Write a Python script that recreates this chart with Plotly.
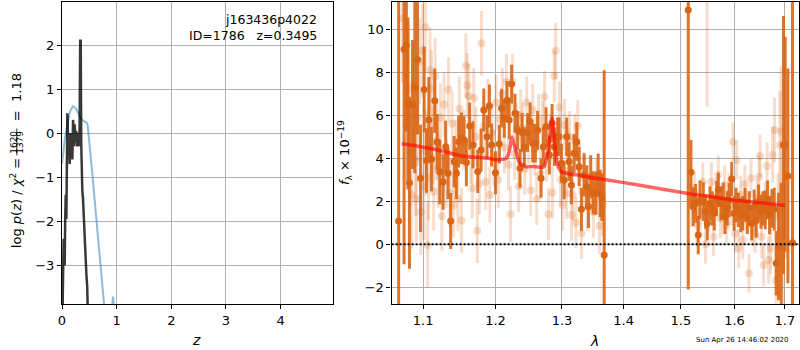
import plotly.graph_objects as go

# ---------------- left panel: p(z) ----------------
z_pz = [0.0, 0.007, 0.02, 0.031, 0.04, 0.049, 0.058, 0.068, 0.08, 0.09, 0.098, 0.104, 0.11, 0.12, 0.13,
        0.141, 0.153, 0.162, 0.172, 0.181, 0.19, 0.202, 0.211, 0.22, 0.232, 0.245, 0.26, 0.275, 0.285,
        0.294, 0.303, 0.312, 0.322, 0.333, 0.343, 0.352, 0.361, 0.372, 0.385, 0.40, 0.416, 0.432, 0.446,
        0.462, 0.477, 0.49]
logpz = [-5.0, -3.6, -3.2, -2.4, -2.9, -3.0, -2.0, -1.4, -1.95, -0.9, 0.45, 0.3, -0.15, -0.5, -0.3,
         -0.7, 0.0, -0.5, -0.4, -0.1, -0.6, 0.3, 0.1, -0.3, 0.2, -0.2, 0.05, -0.3, 0.0,
         -0.23, -0.3, -0.2, 0.1, 2.1, 2.1, -0.23, -0.9, -1.3, -1.5, -2.0, -2.4, -2.8, -3.2,
         -3.5, -3.9, -5.0]

z_chi = [0.0, 0.05, 0.1, 0.15, 0.2, 0.25, 0.3, 0.35, 0.4, 0.45, 0.47, 0.5, 0.55, 0.6, 0.65, 0.7, 0.75,
         0.8, 0.88, 0.915, 0.934, 0.955, 0.99, 1.05]
chi_curve = [-0.7, -0.15, 0.2, 0.5, 0.61, 0.57, 0.45, 0.32, 0.27, 0.24, 0.18, -0.15, -0.85, -1.55, -2.25,
             -3.0, -3.75, -4.3, -4.4, -4.0, -3.71, -4.0, -4.6, -6.0]

# ---------------- right panel: spectrum ----------------
# darker points (one set of spectra)
wl_a = [1.068, 1.075, 1.078, 1.080, 1.082, 1.086, 1.089, 1.0925, 1.0965, 1.1013, 1.1044, 1.1075, 1.111,
        1.1154, 1.1187, 1.1222, 1.1267, 1.1302, 1.1335, 1.137, 1.1418, 1.1449, 1.148, 1.1518, 1.1555,
        1.1587, 1.1633, 1.168, 1.1747, 1.1794, 1.1832, 1.1879, 1.1913, 1.1944, 1.2, 1.2056, 1.2089,
        1.2128, 1.2168, 1.22, 1.2235, 1.2285, 1.2325, 1.236, 1.239, 1.2424, 1.2473, 1.251, 1.2549,
        1.259, 1.2624, 1.2677, 1.2712, 1.2753, 1.2804, 1.2846, 1.2881, 1.2933, 1.2955, 1.2991, 1.3033,
        1.3074, 1.3112, 1.3148, 1.3191, 1.3233, 1.3271, 1.3308, 1.3351, 1.3393, 1.3421, 1.3458, 1.3497,
        1.354, 1.3579, 1.3611, 1.3638, 1.3677,
        1.5133, 1.5182, 1.5224, 1.5268, 1.5316, 1.5348, 1.5409, 1.5454, 1.5484, 1.5534, 1.5577, 1.5615,
        1.566, 1.569, 1.5741, 1.5785, 1.5817, 1.5861, 1.5899, 1.5945, 1.599, 1.6028, 1.6073, 1.612,
        1.6158, 1.6203, 1.6248, 1.6287, 1.6334, 1.6383, 1.6423, 1.6468, 1.6516, 1.6556, 1.6602, 1.6648,
        1.6688, 1.6737, 1.6783, 1.6823, 1.687, 1.6924, 1.6971, 1.7006, 1.7061, 1.7155]
flux_a = [1.08, 9.07, 9.25, 6.55, 2.86, 6.5, 7.3, 8.6, 3.07, 7.2, 3.9, 5.78, 3.96,
          6.68, 4.76, 3.36, 2.91, 4.54, 3.3, 1.08, 3.84, 3.3, 4.77, 4.93, 4.85,
          3.8, 5.5, 4.62, 3.38, 4.39, 6.25, 5.0, 6.43, 4.62, 3.33, 4.66, 6.33,
          5.86, 6.7, 5.78, 7.45, 6.1, 5.3, 3.53, 5.2, 4.54, 5.19, 5.7, 4.7,
          4.7, 5.3, 3.07, 4.54, 5.47, 4.15, 5.63, 4.54, 5.0, 5.0, 3.77, 2.99,
          5.0, 3.84, 2.76, 4.23, 4.77, 3.61, 1.63, 3.22, 2.68, 1.75, 3.14, 2.4,
          2.37, 3.22, 2.37, 2.19, -0.5,
          10.9, 3.35, 1.75, 1.9, 0.43, 2.06, 1.98, 1.52, 0.98, 1.9, 1.67, 1.44,
          2.14, 2.53, 1.9, 2.06, 1.28, 1.67, 2.06, 3.04, 1.44, 1.83, 1.6, 1.36,
          1.44, 1.83, 1.28, 1.67, 0.98, 1.75, 1.1, 1.98, 1.52, 1.67, 1.6, 2.06,
          1.36, 1.67, 1.63, -0.88, -0.11, -0.14, 4.62, 4.65, 3.18, 0.07]
err_a = [12, 10, 4, 4, 4, 3, 4, 3.5, 2.5, 2, 1.5, 2, 1.5,
         1.5, 1.3, 1.5, 1.3, 1.2, 1.2, 1.3, 1.2, 1.2, 1.2, 1.2, 1.1,
         1.1, 1.1, 1.1, 1.0, 1.0, 1.0, 1.0, 1.0, 1.0, 1.0, 0.9, 0.9,
         0.9, 0.9, 0.9, 0.9, 0.9, 0.9, 0.9, 0.9, 0.9, 0.9, 0.9, 0.9,
         0.9, 0.9, 0.9, 0.9, 0.9, 0.9, 0.9, 0.9, 0.9, 0.9, 0.9, 0.9,
         0.9, 0.9, 0.9, 0.9, 0.9, 0.9, 1.0, 1.0, 1.0, 1.0, 1.0, 1.0,
         1.0, 1.0, 1.1, 1.1, 8.6,
         13, 1.5, 0.9, 0.9, 0.9, 0.9, 0.9, 0.8, 0.8, 0.8, 0.8, 0.8,
         0.8, 0.8, 0.8, 0.8, 0.8, 0.8, 0.8, 0.8, 0.8, 0.8, 0.8, 0.8,
         0.8, 0.8, 0.8, 0.8, 0.8, 0.8, 0.8, 0.8, 0.8, 0.8, 0.9, 0.9,
         0.9, 0.9, 1.0, 1.5, 2.5, 3.0, 6.0, 5.0, 5.0, 13]

# lighter points (other set of spectra)
wl_b = [1.073, 1.078, 1.081, 1.083, 1.085, 1.088, 1.090, 1.091, 1.093, 1.095, 1.097, 1.099, 1.101, 1.103,
        1.104, 1.106, 1.107, 1.109, 1.111, 1.113, 1.114, 1.116, 1.118, 1.120, 1.123, 1.125, 1.128, 1.131,
        1.134, 1.136, 1.139, 1.141, 1.144, 1.147, 1.149, 1.152, 1.155, 1.158, 1.160, 1.162, 1.165, 1.167,
        1.169, 1.172, 1.174, 1.177, 1.180, 1.183, 1.186, 1.189, 1.192, 1.195, 1.198, 1.201, 1.204, 1.207,
        1.210, 1.213, 1.216, 1.219, 1.222, 1.225, 1.228, 1.231, 1.234, 1.237, 1.240, 1.243, 1.246, 1.249,
        1.252, 1.255, 1.258, 1.261, 1.264, 1.267, 1.270, 1.273, 1.276, 1.279, 1.282, 1.285, 1.288, 1.290,
        1.293, 1.296, 1.298, 1.301, 1.304, 1.307, 1.310, 1.312, 1.315, 1.317, 1.320, 1.322, 1.325, 1.328,
        1.331, 1.335, 1.340, 1.345, 1.350, 1.355, 1.360, 1.365,
        1.520, 1.525, 1.530, 1.535, 1.540, 1.545, 1.548, 1.551, 1.556, 1.560, 1.565, 1.569, 1.573, 1.578,
        1.581, 1.585, 1.589, 1.593, 1.597, 1.601, 1.604, 1.608, 1.612, 1.616, 1.620, 1.624, 1.628, 1.632,
        1.636, 1.640, 1.644, 1.648, 1.650, 1.653, 1.657, 1.660, 1.664, 1.667, 1.671, 1.675, 1.679, 1.682,
        1.686, 1.690, 1.692, 1.697]
flux_b = [10.5, 5.5, 7.2, 4.3, 2.3, 7.45, 3.8, 2.1, 5.9, 8.5, 1.5, 9.0, 2.7, 10.1,
          4.3, -0.03, 3.1, 8.1, 7.25, 4.6, 2.45, 7.8, 4.8, 3.5, 5.9, 1.3, 6.5, 3.3,
          7.2, 2.4, 5.6, 1.8, 4.4, 2.1, 6.3, 1.1, 4.85, 8.3, 7.4, 6.9, 4.2, 2.6,
          6.8, 5.0, 0.63, 2.8, 9.35, 5.5, 2.9, 6.4, 2.3, 5.2, 4.0, 6.6, 3.0, 5.8,
          7.0, 4.5, 7.56, 3.7, 1.4, 7.56, 4.2, 5.4, 2.7, 6.0, 5.4, 3.5, 6.6, 4.9,
          2.5, 6.25, 4.4, 2.1, 5.8, 3.3, 5.47, 6.86, 4.1, 1.4, 4.9, 2.4, 7.83, 9.0,
          4.7, 6.37, 3.0, 1.83, 5.55, 2.37, 4.2, 5.0, 1.36, 2.29, 4.85, 1.0, 5.5, 3.5,
          0.51, 3.1, 1.8, 2.9, 1.5, 2.7, 0.85, 1.9,
          1.8, 2.4, 0.9, 1.5, 2.9, 0.0, 12.0, 1.44, 2.91, 0.35, 2.2, 3.22, 1.2, 1.36,
          2.76, 0.9, 2.4, 1.8, 4.77, 0.51, 3.92, -0.19, 2.3, 0.2, 2.8, 1.6, -1.35, 3.07,
          0.8, 0.51, 2.1, 3.14, 4.1, 0.35, -0.96, 1.9, 3.64, -0.73, -0.19, 4.15, 5.32, -1.69,
          1.3, 4.62, 5.24, -0.5]
err_b = [3, 2.5, 3, 2.5, 2.5, 2, 2.5, 2, 2, 2, 2, 2.2, 2.5, 2,
         2, 2, 2, 2, 1.8, 1.8, 1.8, 1.8, 1.8, 1.8, 1.6, 1.6, 1.5, 1.6,
         1.5, 1.6, 1.5, 1.5, 1.4, 1.5, 1.5, 1.5, 1.4, 1.5, 1.5, 1.5, 1.4, 1.4,
         1.4, 1.4, 1.5, 1.4, 1.5, 1.4, 1.3, 1.3, 1.3, 1.3, 1.3, 1.3, 1.3, 1.3,
         1.2, 1.2, 1.3, 1.2, 1.3, 1.3, 1.2, 1.2, 1.2, 1.2, 1.2, 1.2, 1.2, 1.2,
         1.2, 1.2, 1.2, 1.2, 1.2, 1.2, 1.2, 1.2, 1.2, 1.2, 1.2, 1.2, 1.2, 1.3,
         1.2, 1.2, 1.2, 1.2, 1.2, 1.2, 1.2, 1.2, 1.2, 1.2, 1.2, 1.2, 1.2, 1.2,
         1.2, 1.2, 1.2, 1.2, 1.2, 1.3, 1.3, 1.5,
         1.0, 1.0, 1.0, 0.9, 0.9, 0.9, 5.6, 0.9, 0.9, 0.9, 0.9, 0.9, 0.9, 0.9,
         0.9, 0.9, 0.9, 0.9, 0.9, 0.9, 0.9, 0.9, 0.9, 0.9, 0.9, 0.9, 0.9, 0.9,
         0.9, 0.9, 0.9, 1.0, 1.0, 1.0, 1.0, 1.0, 1.1, 1.1, 1.2, 1.3, 1.5, 1.5,
         2.0, 2.5, 3.0, 4.0]

# best-fit model
wl_model = [1.072, 1.09, 1.11, 1.13, 1.15, 1.17, 1.19, 1.20, 1.215, 1.22, 1.2242, 1.23, 1.235, 1.245,
            1.255, 1.265, 1.272, 1.278, 1.2846, 1.288, 1.292, 1.298, 1.31, 1.33, 1.35, 1.37, 1.42,
            1.47, 1.52, 1.56, 1.60, 1.65, 1.70]
flux_model = [4.68, 4.58, 4.45, 4.3, 4.12, 4.05, 4.0, 3.93, 3.97, 4.3, 5.0, 4.3, 3.8, 3.6,
              3.62, 3.58, 3.6, 4.3, 5.9, 5.0, 3.8, 3.4, 3.28, 3.2, 3.08, 3.0, 2.78,
              2.55, 2.33, 2.2, 2.05, 1.93, 1.8]

wl_zero = [1.059, 1.726]
zero_line = [0, 0]

DARK = "rgb(217,102,22)"
LIGHT = "rgba(217,102,22,0.22)"
FONT = "DejaVu Sans"

fig = go.Figure()

# left panel
fig.add_trace(go.Scatter(x=z_chi, y=chi_curve, mode="lines",
                         line=dict(color="rgba(31,119,180,0.5)", width=2),
                         xaxis="x", yaxis="y", showlegend=False))
fig.add_trace(go.Scatter(x=z_pz, y=logpz, mode="lines",
                         line=dict(color="rgba(0,0,0,0.78)", width=2.5),
                         xaxis="x", yaxis="y", showlegend=False))

# right panel
fig.add_trace(go.Scatter(x=wl_b, y=flux_b, mode="markers",
                         marker=dict(color=LIGHT, size=8),
                         error_y=dict(type="data", array=err_b, color=LIGHT, thickness=3, width=0),
                         xaxis="x2", yaxis="y2", showlegend=False))
fig.add_trace(go.Scatter(x=wl_a, y=flux_a, mode="markers",
                         marker=dict(color=DARK, size=7),
                         error_y=dict(type="data", array=err_a, color="rgba(217,102,22,0.9)",
                                      thickness=3, width=0),
                         xaxis="x2", yaxis="y2", showlegend=False))
fig.add_trace(go.Scatter(x=wl_model, y=flux_model, mode="lines",
                         line=dict(color="rgba(255,0,0,0.6)", width=3.5, shape="spline", smoothing=0.4),
                         xaxis="x2", yaxis="y2", showlegend=False))
fig.add_trace(go.Scatter(x=wl_zero, y=zero_line, mode="lines",
                         line=dict(color="black", width=2, dash="2px,2px"),
                         xaxis="x2", yaxis="y2", showlegend=False))

axis_common = dict(showline=True, linecolor="black", linewidth=1.2, mirror=True,
                   ticks="outside", ticklen=4, tickcolor="black", tickwidth=1,
                   showgrid=True, gridcolor="#b0b0b0", gridwidth=1, zeroline=False,
                   tickfont=dict(family=FONT, size=13, color="black"))

fig.update_layout(
    width=800, height=350,
    margin=dict(l=62, r=1, t=2, b=46),
    paper_bgcolor="white", plot_bgcolor="white",
    font=dict(family=FONT, color="black"),
    xaxis=dict(domain=[0, 0.3677], range=[0, 4.96], tickvals=[0, 1, 2, 3, 4], anchor="y", **axis_common),
    yaxis=dict(domain=[0, 1], range=[-3.88, 2.977], tickvals=[-3, -2, -1, 0, 1, 2], anchor="x",
               **axis_common),
    xaxis2=dict(domain=[0.4471, 1], type="log", range=[0.02485, 0.2378],
                tickvals=[1.1, 1.2, 1.3, 1.4, 1.5, 1.6, 1.7],
                ticktext=["1.1", "1.2", "1.3", "1.4", "1.5", "1.6", "1.7"],
                anchor="y2", **axis_common),
    yaxis2=dict(domain=[0, 1], range=[-2.78, 11.27], tickvals=[-2, 0, 2, 4, 6, 8, 10], anchor="x2",
                **axis_common),
)


def ann(text, x, y, size, xanchor="center", yanchor="middle", angle=0):
    fig.add_annotation(text=text, xref="paper", yref="paper", x=x, y=y,
                       xanchor=xanchor, yanchor=yanchor, showarrow=False, textangle=angle,
                       font=dict(family=FONT, size=size, color="black"))


ann("j163436p4022", 0.3487, 0.9406, 12.5, xanchor="right")
ann("ID=1786   z=0.3495", 0.3487, 0.8878, 12.5, xanchor="right")
ann("<i>z</i>", 0.183, -0.119, 14)
ann("<i>λ</i>", 0.722, -0.122, 14)
ann("Sun Apr 26 14:46:02 2020", 0.9227, -0.119, 7)

# left y label, built in pieces to mimic the stacked fraction
ann("log <i>p</i>(<i>z</i>) / <i>χ</i><sup>2</sup> =", -0.0624, 0.334, 13, angle=-90)
ann("1620", -0.0654, 0.5364, 9, angle=-90)
ann("1379", -0.0572, 0.5364, 9, angle=-90)
ann("=  1.18", -0.0624, 0.685, 13, angle=-90)
fig.add_shape(type="line", xref="paper", yref="paper", x0=-0.0613, x1=-0.0613, y0=0.4917, y1=0.5811,
              line=dict(color="black", width=0.8))

ann("<i>f</i><sub>λ</sub> × 10<sup>−19</sup>", 0.384, 0.50, 13, angle=-90)

fig.write_html("out.html", config={"displayModeBar": False},
               post_script="document.body.style.margin='0px';document.body.style.overflow='hidden';")
